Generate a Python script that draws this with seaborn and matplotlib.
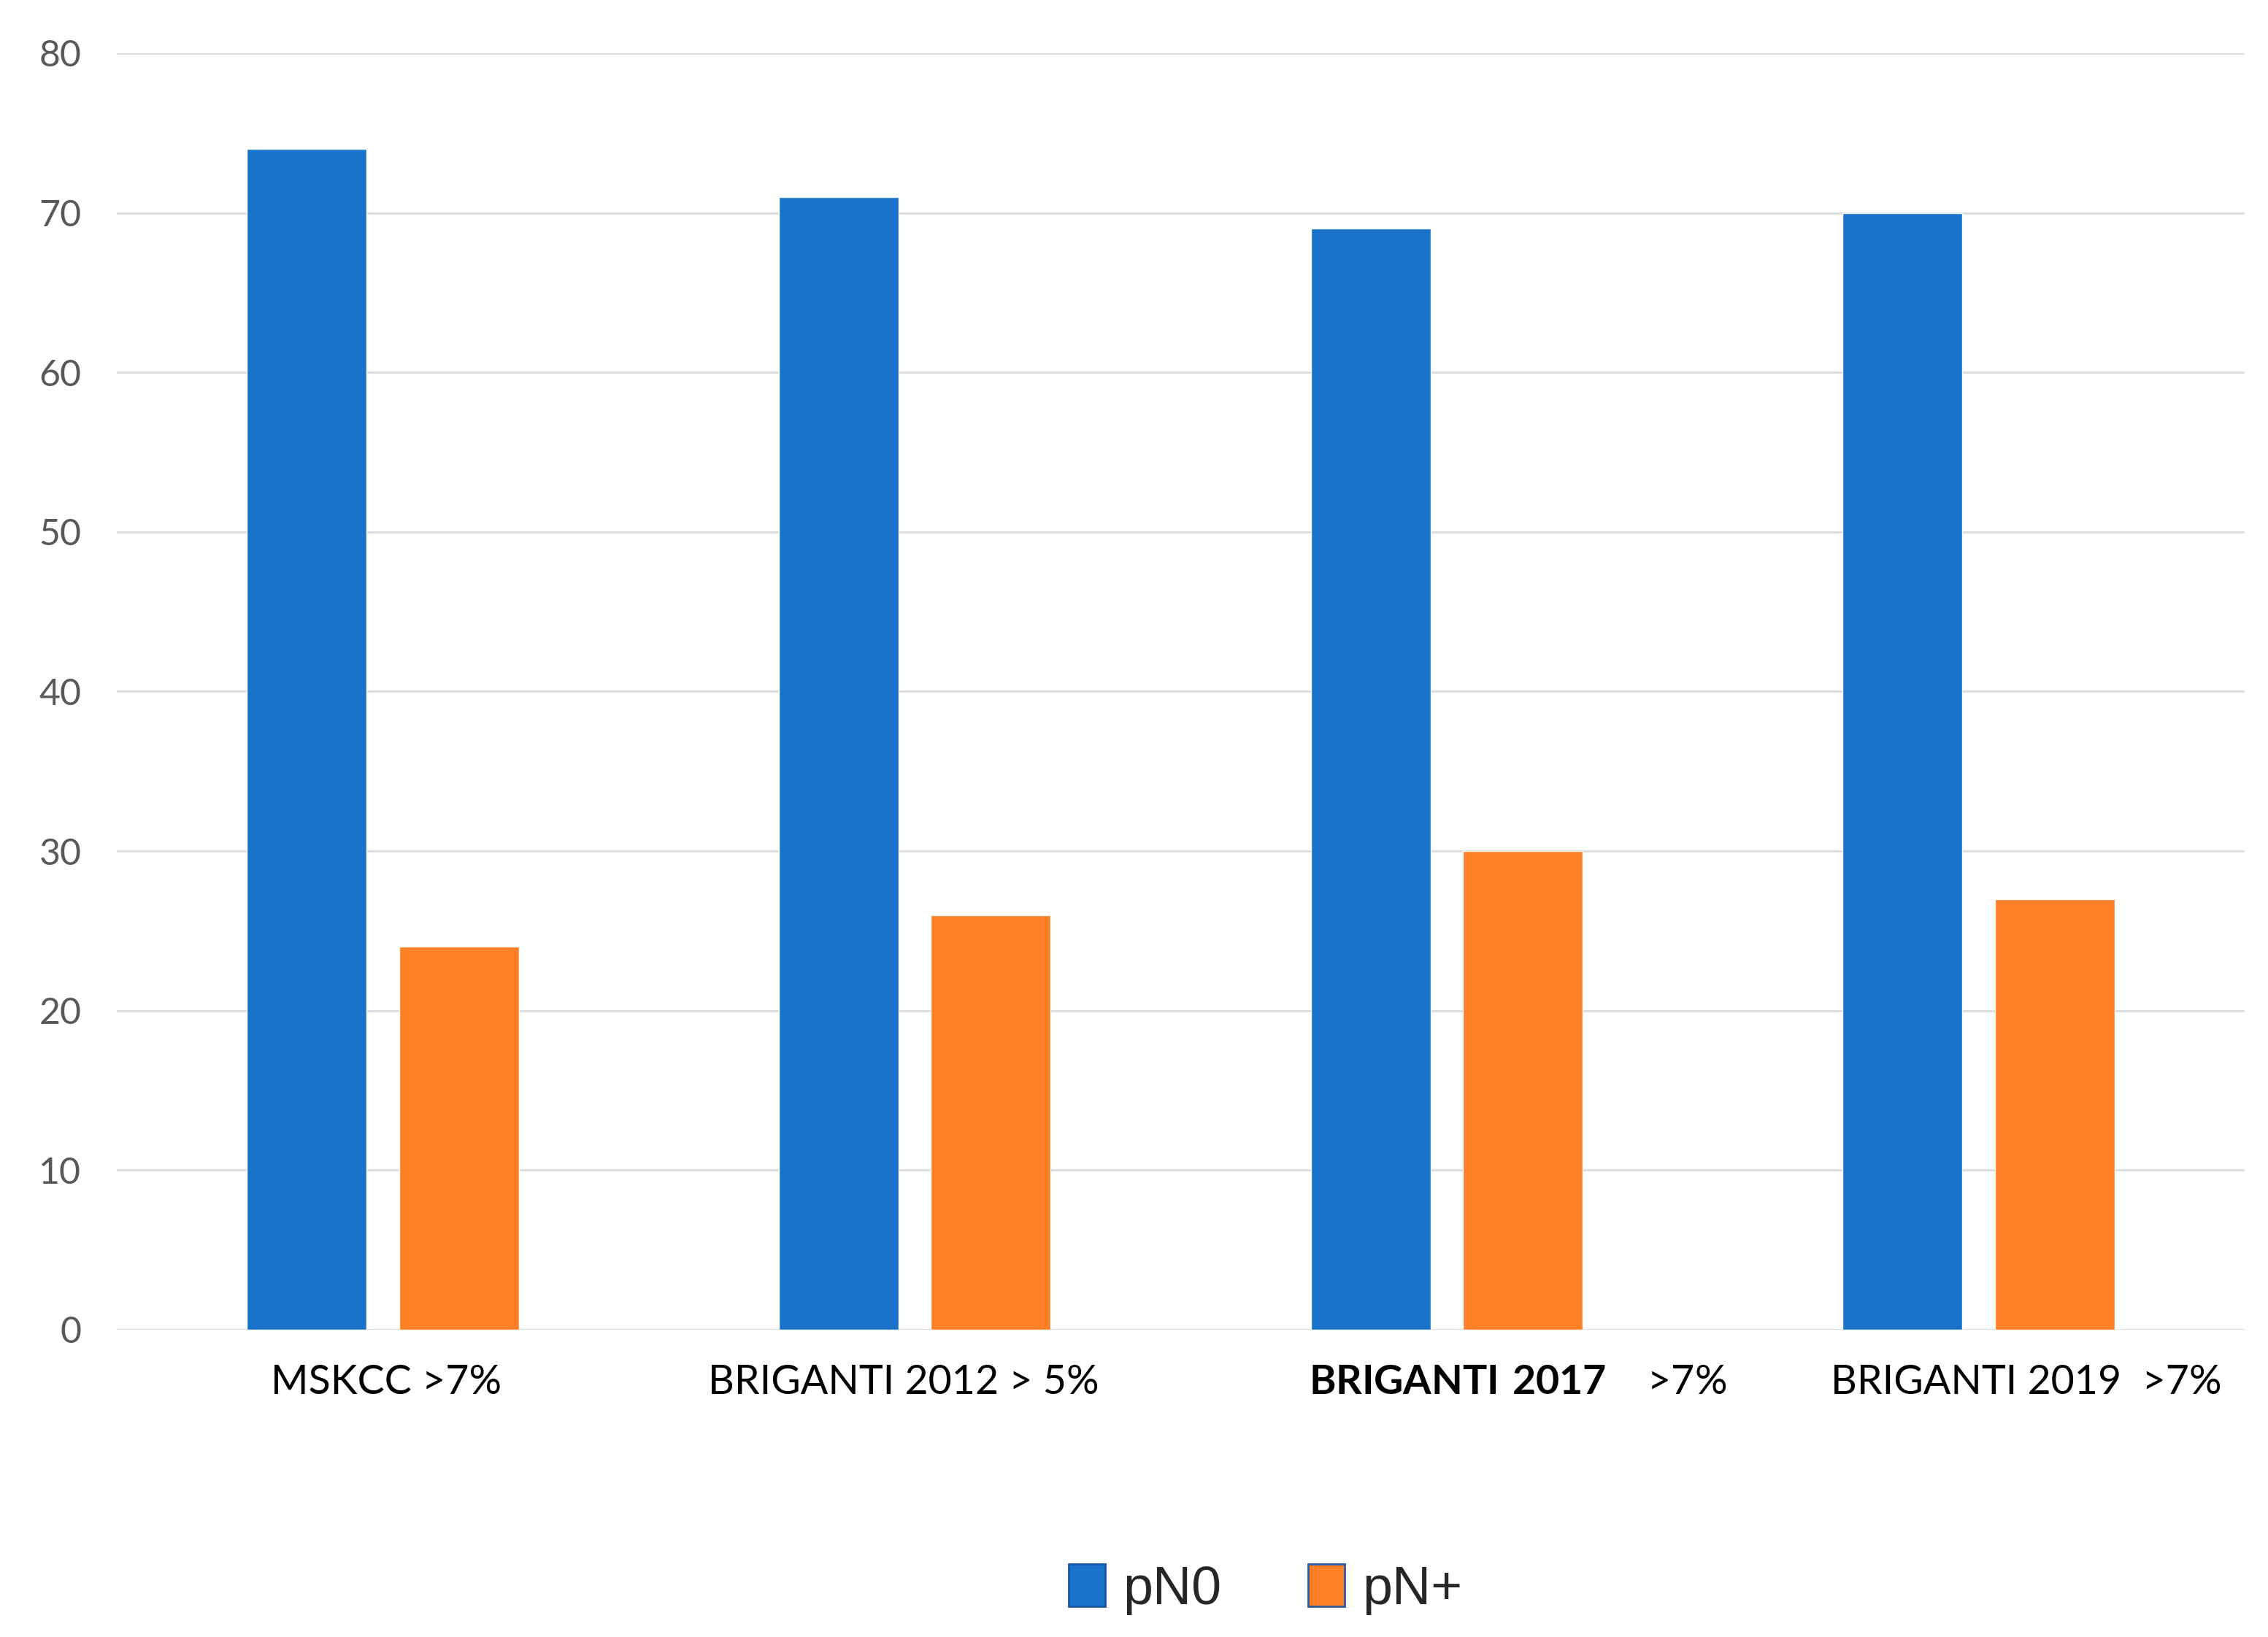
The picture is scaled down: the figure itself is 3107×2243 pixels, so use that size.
import pandas as pd
import seaborn as sns
import matplotlib.pyplot as plt
import matplotlib.transforms as mtransforms
from matplotlib.patches import Patch

# Data
models = ["MSKCC", "BRIGANTI 2012", "BRIGANTI 2017", "BRIGANTI 2019"]
tick_labels = ["MSKCC >7%", "BRIGANTI 2012 > 5%",
               r"$\mathbf{BRIGANTI\ 2017}$    >7%", "BRIGANTI 2019  >7%"]
groups = ["pN0", "pN+"]
pn0 = [74, 71, 69, 70]
pn_plus = [24, 26, 30, 27]

data = pd.DataFrame({
    "model": models * 2,
    "group": [groups[0]] * len(models) + [groups[1]] * len(models),
    "value": pn0 + pn_plus,
})

sns.set_theme(style="white")
plt.rcParams["font.family"] = ["Lato", "DejaVu Sans"]
plt.rcParams["mathtext.fontset"] = "custom"
plt.rcParams["mathtext.rm"] = "Lato"
plt.rcParams["mathtext.bf"] = "Lato:bold"

blue = "#1A73CB"
orange = "#FE7F25"

fig, ax = plt.subplots(figsize=(31.07, 22.43), dpi=100)
plt.subplots_adjust(left=0.0515, right=0.9897, bottom=0.1877, top=0.9675)

sns.barplot(data=data, x="model", y="value", hue="group", palette=[blue, orange],
            saturation=1, width=0.572, gap=0.213, dodge=True, legend=False,
            ax=ax, zorder=3)

# Axes styling
ax.set_xlim(-0.5, 3.5)
ax.set_ylim(0, 80)
ax.set_yticks(range(0, 81, 10))
ax.yaxis.grid(True, color="#DDDDDD", linewidth=2.2, zorder=0)
ax.set_axisbelow(True)
for s in ax.spines.values():
    s.set_visible(False)
ax.set_xlabel("")
ax.set_ylabel("")
ax.tick_params(axis="both", length=0)
ax.tick_params(axis="y", pad=35, labelcolor="#595959", labelsize=36)
ax.tick_params(axis="x", pad=34, labelcolor="black")

ax.set_xticks(range(len(models)))
ax.set_xticklabels(tick_labels, fontsize=40)

# small horizontal shifts of the category labels (pixels)
label_dx = [5, -15, 97, 65]
for lbl, dx in zip(ax.get_xticklabels(), label_dx):
    lbl.set_transform(lbl.get_transform() +
                      mtransforms.ScaledTranslation(dx / 100, 0, fig.dpi_scale_trans))

# Legend at the bottom
handles = [Patch(facecolor=blue, edgecolor="#1657A8", linewidth=2),
           Patch(facecolor=orange, edgecolor="#2C5AA0", linewidth=2)]
fig.legend(handles, groups, loc="center", bbox_to_anchor=(0.558, 0.029), ncol=2,
           frameon=False, prop={"family": ["Liberation Sans", "DejaVu Sans"], "size": 53},
           handlelength=0.68, handleheight=0.82, handletextpad=0.34, columnspacing=1.6)

plt.savefig("out.png", dpi=100)
